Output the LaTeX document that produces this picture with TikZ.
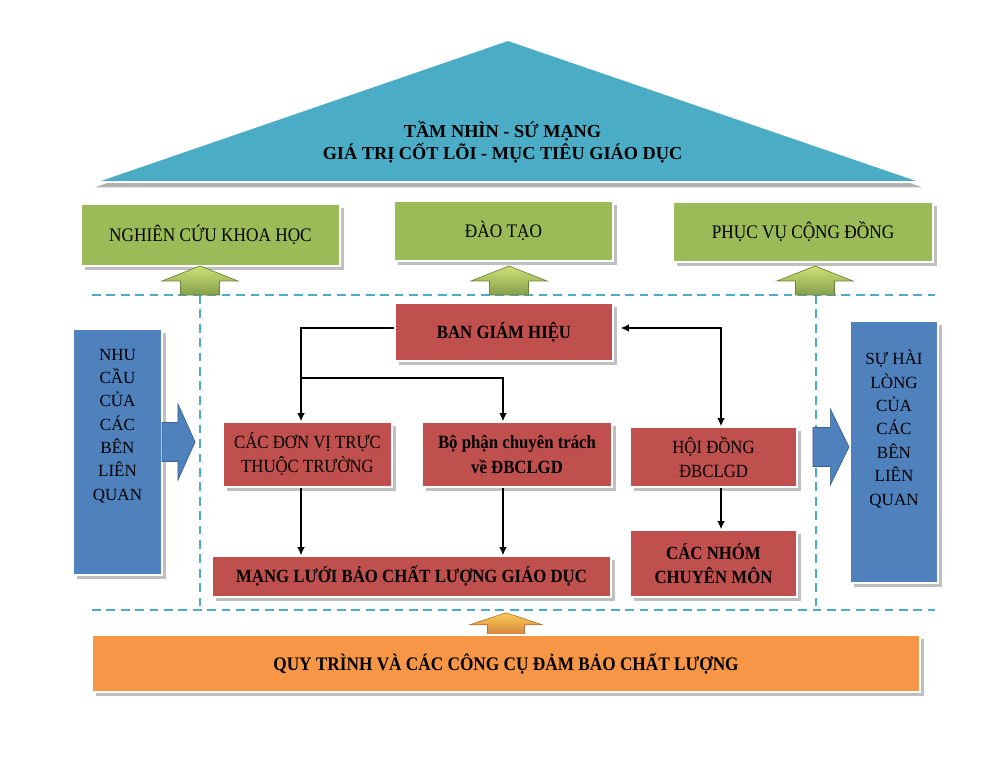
\documentclass[tikz,border=0pt]{standalone}
\usepackage{fontspec}
\setmainfont{Liberation Serif}
\newfontfamily\narrowrm[FakeStretch=0.9]{Liberation Serif}
\usetikzlibrary{arrows.meta, positioning, calc, shadows}
\definecolor{caqua}{HTML}{4BACC6}
\definecolor{cgreen}{HTML}{9BBB59}
\definecolor{cblue}{HTML}{4F81BD}
\definecolor{cred}{HTML}{C0504D}
\definecolor{corange}{HTML}{F79646}
\tikzset{
  box/.style={fill=#1, draw=white, line width=1pt, align=center, inner sep=3pt,
    drop shadow={shadow xshift=2pt, shadow yshift=-2pt, fill=black, opacity=.25}},
  greenbox/.style={box=cgreen, font=\narrowrm\fontsize{10.9}{13}\selectfont},
  redbox/.style={box=cred, font=\narrowrm\fontsize{10.6}{13.7}\selectfont},
  redbold/.style={redbox, font=\narrowrm\bfseries\fontsize{10.6}{13.7}\selectfont},
  bluebox/.style={box=cblue},
  bluetext/.style={align=center, font=\fontsize{9.7}{13.3}\selectfont},
  conn/.style={-{Latex[length=1.6mm, width=1.5mm]}, line width=0.6pt},
  guide/.style={caqua, line width=1.3pt, dash pattern=on 5pt off 3.2pt},
  pics/fatarrow/.style={code={
    \path[pic actions] (-0.39,0) -- (-0.39,0.28) -- (-0.76,0.28) -- (0,0.58)
      -- (0.76,0.28) -- (0.39,0.28) -- (0.39,0) -- cycle;}},
}

\begin{document}
\begin{tikzpicture}
  \useasboundingbox (0,0) rectangle (19.8,15.3);
  % roof
  \path[fill=caqua, draw=white, line width=1pt,
    drop shadow={shadow xshift=0pt, shadow yshift=-3pt, fill=black, opacity=.3}]
    (1.9,11.66) -- (10.16,14.5) -- (18.44,11.66) -- cycle;
  \node[align=center, font=\bfseries\fontsize{10.4}{12.5}\selectfont] (vision) at (10.05,12.45)
    {TẦM NHÌN - SỨ MẠNG\\GIÁ TRỊ CỐT LÕI - MỤC TIÊU GIÁO DỤC};

  % three pillars
  \node[greenbox, minimum width=5.18cm, minimum height=1.24cm] (nckh) at (4.21,10.6) {NGHIÊN CỨU KHOA HỌC};
  \node[greenbox, minimum width=4.38cm, minimum height=1.2cm] (dt) at (10.07,10.68) {ĐÀO TẠO};
  \node[greenbox, minimum width=5.2cm, minimum height=1.2cm] (pvcd) at (16.06,10.66) {PHỤC VỤ CỘNG ĐỒNG};

  % frame
  \draw[guide] (1.84,9.4) -- (18.7,9.4);
  \draw[guide] (1.84,3.1) -- (18.7,3.1);
  \draw[guide, line width=1pt] (4.0,9.4) -- (4.0,3.1);
  \draw[guide, line width=1pt] (16.32,9.4) -- (16.32,3.1);

  \foreach \x in {4.0, 10.18, 16.3}
    \pic[top color=cgreen!65!yellow!70!white, bottom color=cgreen!85!black, draw=cgreen!70!black, line width=0.4pt]
      at (\x,9.4) {fatarrow};

  % stakeholders
  \node[bluebox, minimum width=1.78cm, minimum height=4.92cm] (needs) at (2.35,6.26) {};
  \node[bluetext] (needstxt) at (2.35,6.78) {NHU\\CẦU\\CỦA\\CÁC\\BÊN\\LIÊN\\QUAN};
  \node[bluebox, minimum width=1.76cm, minimum height=5.24cm] (satis) at (17.88,6.26) {};
  \node[bluetext] (satistxt) at (17.88,6.72) {SỰ HÀI\\LÒNG\\CỦA\\CÁC\\BÊN\\LIÊN\\QUAN};
  \pic[rotate=-90, yscale=1.14, fill=cblue, draw=cblue!75!black, line width=0.4pt] at (3.24,6.46) {fatarrow};
  \pic[rotate=-90, yscale=1.24, fill=cblue, draw=cblue!75!black, line width=0.4pt] at (16.26,6.36) {fatarrow};

  % organisation
  \node[redbold, minimum width=4.36cm, minimum height=1.16cm] (bgh) at (10.08,8.66) {BAN GIÁM HIỆU};
  \node[redbox, minimum width=3.38cm, minimum height=1.3cm] (dv) at (6.15,6.21) {CÁC ĐƠN VỊ TRỰC\\THUỘC TRƯỜNG};
  \node[redbold, minimum width=3.8cm, minimum height=1.3cm] (bp) at (10.34,6.21) {Bộ phận chuyên trách\\về ĐBCLGD};
  \node[redbox, minimum width=3.34cm, minimum height=1.2cm] (hd) at (14.27,6.16) {HỘI ĐỒNG\\ĐBCLGD};
  \node[redbold, minimum width=7.98cm, minimum height=0.82cm] (mlt) at (8.23,3.77) {MẠNG LƯỚI BẢO CHẤT LƯỢNG GIÁO DỤC};
  \node[redbold, minimum width=3.34cm, minimum height=1.34cm] (nhom) at (14.27,4.03) {CÁC NHÓM\\CHUYÊN MÔN};

  \coordinate (split) at (6.02,7.74);
  \draw[conn] ([yshift=0.08cm]bgh.west) -| (split |- dv.north);
  \draw[conn] (split) -| ([xshift=-0.28cm]bp.north);
  \draw[conn] (split |- dv.south) -- (split |- mlt.north);
  \draw[conn] ([xshift=-0.28cm]bp.south) -- ([xshift=-0.28cm]bp.south |- mlt.north);
  \draw[conn, {Latex[length=1.6mm, width=1.5mm]}-{Latex[length=1.6mm, width=1.5mm]}]
    ([xshift=0.14cm, yshift=0.08cm]bgh.east) -| ([xshift=0.15cm]hd.north);
  \draw[conn] ([xshift=0.15cm]hd.south) -- ([xshift=0.15cm]hd.south |- nhom.north);

  % base
  \pic[xscale=0.95, yscale=0.8, top color=corange!60!yellow!80!white, bottom color=corange!85!black,
    draw=corange!75!black, line width=0.4pt] at (10.12,2.58) {fatarrow};
  \node[box=corange, minimum width=16.56cm, minimum height=1.14cm,
    font=\narrowrm\bfseries\fontsize{10.9}{13}\selectfont] (qt) at (10.12,2.03)
    {QUY TRÌNH VÀ CÁC CÔNG CỤ ĐẢM BẢO CHẤT LƯỢNG};
\end{tikzpicture}
\end{document}
